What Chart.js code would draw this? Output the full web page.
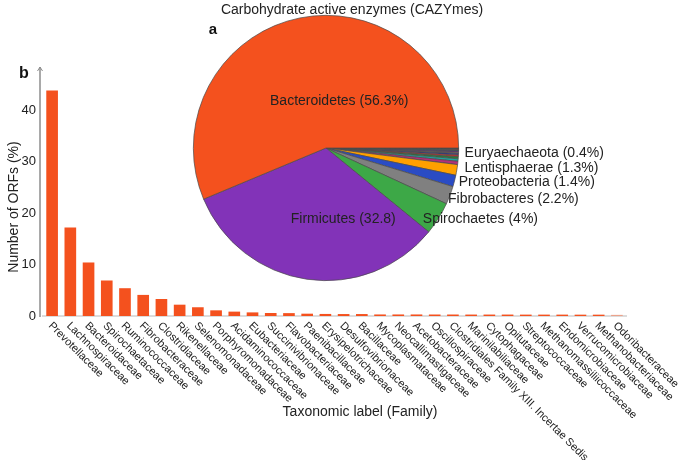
<!DOCTYPE html>
<html><head><meta charset="utf-8">
<script src="https://cdn.jsdelivr.net/npm/chart.js@4/dist/chart.umd.min.js"></script>
<style>
html,body{margin:0;padding:0;background:#fff;}
#wrap{position:relative;width:685px;height:460px;overflow:hidden;}
#bar{position:absolute;left:0;top:0;}
#pie{position:absolute;left:180px;top:0;}
</style></head><body>
<div id="wrap"><canvas id="bar" width="685" height="460"></canvas><canvas id="pie" width="460" height="300"></canvas></div>
<script>
// ---- Bar chart data (panel b) ----
const families = ["Prevotellaceae","Lachnospiraceae","Bacteroidaceae","Spirochaetaceae","Ruminococcaceae","Fibrobacteraceae","Clostridiaceae","Rikenellaceae","Selenomonadaceae","Porphyromonadaceae","Acidaminococcaceae","Eubacteriaceae","Succinivibrionaceae","Flavobacteriaceae","Paenibacillaceae","Erysipelotrichaceae","Desulfovibrionaceae","Bacillaceae","Mycoplasmataceae","Neocallimastigaceae","Acetobacteraceae","Oscillospiraceae","Clostridiales Family XIII. Incertae Sedis","Marinilabiliaceae","Cytophagaceae","Opitutaceae","Streptococcaceae","Methanomassiliicoccaceae","Endomicrobiaceae","Verrucomicrobiaceae","Methanobacteriaceae","Odoribacteraceae"];
const orfPercent = [43.8,17.2,10.4,6.9,5.4,4.1,3.3,2.2,1.7,1.1,0.85,0.7,0.58,0.56,0.45,0.4,0.38,0.38,0.3,0.3,0.3,0.29,0.29,0.28,0.28,0.28,0.27,0.27,0.27,0.26,0.26,0.22];
const yTicks = [0,10,20,30,40];

// ---- Pie chart data (panel a), counter-clockwise order from 3 o'clock ----
const phyla = ["Bacteroidetes","Firmicutes","Spirochaetes","Fibrobacteres","Proteobacteria","Lentisphaerae","Euryaechaeota","Other 1","Other 2","Other 3","Other 4","Other 5","Other 6","Other 7","Other 8","Other 9","Other 10"];
const phylumPercent = [56.3,32.8,4,2.2,1.4,1.3,0.4,0.3,0.25,0.2,0.2,0.15,0.15,0.1,0.1,0.1,0.05];
const phylumLabels = ["Bacteroidetes (56.3%)","Firmicutes (32.8)","Spirochaetes (4%)","Fibrobacteres (2.2%)","Proteobacteria (1.4%)","Lentisphaerae (1.3%)","Euryaechaeota (0.4%)"];

const FONT = "'Liberation Sans', Arial, sans-serif";
const TXT = '#222';
const barColor = '#F4511E';
const pieColors = ['#F4511E','#8233B8','#3DA847','#808080','#2A4CC4','#FFA000','#B0307A','#1FA5A0','#2E7D32','#D32F2F','#283593','#8D6E63','#7B1FA2','#00897B','#C62828','#424242','#111111'];

// ---------------- Bar chart ----------------
const barDecor = {
  id:'barDecor',
  afterDraw(chart){
    const ctx = chart.ctx, ca = chart.chartArea, xs = chart.scales.x;
    ctx.save();
    // y axis line with arrow
    const ax = ca.left - 3;
    ctx.strokeStyle = '#8c8c8c'; ctx.lineWidth = 1.5;
    ctx.beginPath(); ctx.moveTo(ax, ca.bottom + 1); ctx.lineTo(ax, ca.top - 2); ctx.stroke();
    ctx.lineWidth = 1;
    ctx.beginPath(); ctx.moveTo(ax - 2.5, ca.top + 2); ctx.lineTo(ax, ca.top - 2); ctx.lineTo(ax + 2.5, ca.top + 2); ctx.stroke();
    // rotated category labels
    ctx.fillStyle = TXT;
    ctx.font = '11px ' + FONT;
    ctx.textAlign = 'left'; ctx.textBaseline = 'middle';
    families.forEach((f, i) => {
      const x = xs.getPixelForValue(i);
      ctx.save();
      ctx.translate(x - 2, ca.bottom + 8);
      ctx.rotate(Math.PI / 4);
      ctx.fillText(f, 0, 0);
      ctx.restore();
    });
    // axis titles
    ctx.font = '14px ' + FONT;
    ctx.textAlign = 'center';
    ctx.fillText('Taxonomic label (Family)', 360, 412);
    ctx.save();
    ctx.translate(14, 207);
    ctx.rotate(-Math.PI / 2);
    ctx.fillText('Number of ORFs (%)', 0, 0);
    ctx.restore();
    // panel letter
    ctx.font = 'bold 16px ' + FONT;
    ctx.fillStyle = '#111';
    ctx.fillText('b', 24, 74);
    ctx.restore();
  }
};

new Chart(document.getElementById('bar'), {
  type:'bar',
  data:{
    labels: families,
    datasets:[{
      data: orfPercent,
      backgroundColor: families.map((f,i) => i === families.length - 1 ? '#EBA38C' : barColor),
      borderWidth: 0,
      barPercentage: 0.64,
      categoryPercentage: 1
    }]
  },
  options:{
    responsive:false, animation:false, devicePixelRatio:1,
    layout:{padding:{left:0, top:69, right:59, bottom:39}},
    plugins:{legend:{display:false}, tooltip:{enabled:false}},
    scales:{
      x:{
        grid:{display:false, drawTicks:false},
        border:{display:true, color:'#dcdcdc', width:2},
        ticks:{display:false},
        afterFit:s => { s.height = 105; }
      },
      y:{
        min:0, max:48,
        grid:{display:false, drawTicks:false},
        border:{display:false},
        afterBuildTicks:s => { s.ticks = yTicks.map(v => ({value:v})); },
        ticks:{font:{family:FONT, size:13}, color:TXT, padding:7},
        afterFit:s => { s.width = 43; }
      }
    }
  },
  plugins:[barDecor]
});

// ---------------- Pie chart ----------------
// label anchors relative to pie centre, in units of the radius
const labelAnchors = [
  {dx:0.10, dy:-0.35, align:'center'},
  {dx:0.13, dy:0.54, align:'center'},
  {dx:0.73, dy:0.54, align:'left'},
  {dx:0.92, dy:0.385, align:'left'},
  {dx:1.00, dy:0.26, align:'left'},
  {dx:1.045, dy:0.155, align:'left'},
  {dx:1.045, dy:0.04, align:'left'}
];

const pieDecor = {
  id:'pieDecor',
  afterDraw(chart){
    const ctx = chart.ctx;
    const arc = chart.getDatasetMeta(0).data[0];
    const cx = arc.x, cy = arc.y, R = arc.outerRadius;
    ctx.save();
    ctx.fillStyle = TXT;
    ctx.font = '14px ' + FONT;
    ctx.textBaseline = 'middle';
    phylumLabels.forEach((t, i) => {
      const a = labelAnchors[i];
      ctx.textAlign = a.align;
      ctx.fillText(t, cx + a.dx * R, cy + a.dy * R);
    });
    ctx.textAlign = 'center';
    ctx.fillText('Carbohydrate active enzymes (CAZYmes)', 172, 10);
    ctx.font = 'bold 15px ' + FONT;
    ctx.fillStyle = '#111';
    ctx.fillText('a', 33, 30);
    ctx.restore();
  }
};

new Chart(document.getElementById('pie'), {
  type:'pie',
  data:{
    labels: phyla.slice().reverse(),
    datasets:[{
      data: phylumPercent.slice().reverse(),
      backgroundColor: pieColors.slice().reverse(),
      borderColor:'#4a4a4a',
      borderWidth:0.7
    }]
  },
  options:{
    responsive:false, animation:false, devicePixelRatio:1,
    rotation:90,
    layout:{padding:{left:13, right:181, top:15, bottom:19}},
    plugins:{legend:{display:false}, tooltip:{enabled:false}}
  },
  plugins:[pieDecor]
});
</script>
</body></html>
